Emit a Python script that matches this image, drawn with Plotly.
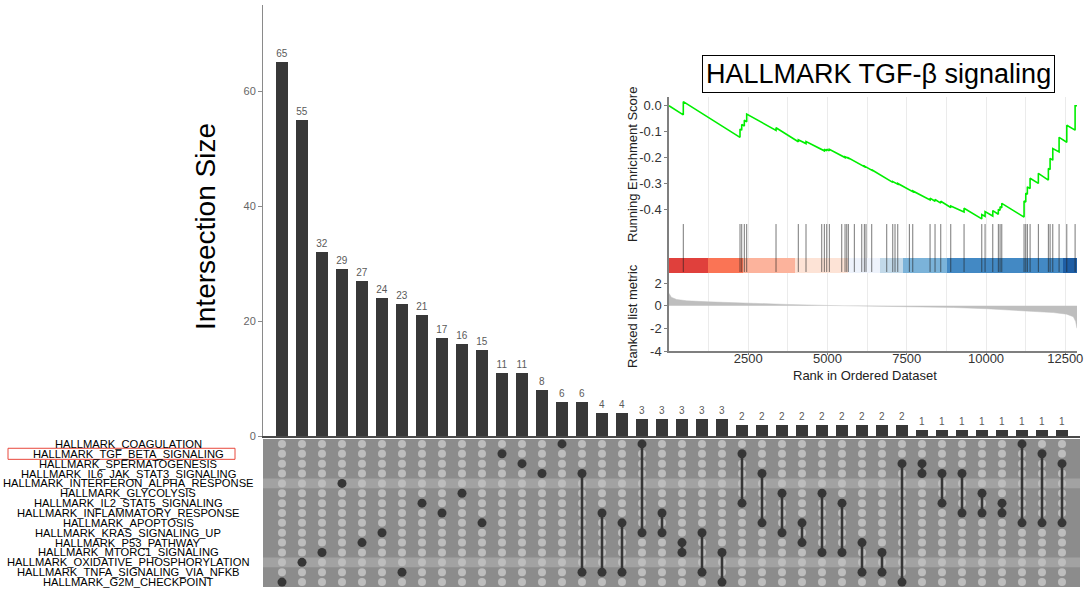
import plotly.graph_objects as go

W, H = 1087, 591

# ---------------- UpSet data ----------------
set_names = [
    "HALLMARK_COAGULATION", "HALLMARK_TGF_BETA_SIGNALING", "HALLMARK_SPERMATOGENESIS",
    "HALLMARK_IL6_JAK_STAT3_SIGNALING", "HALLMARK_INTERFERON_ALPHA_RESPONSE",
    "HALLMARK_GLYCOLYSIS", "HALLMARK_IL2_STAT5_SIGNALING", "HALLMARK_INFLAMMATORY_RESPONSE",
    "HALLMARK_APOPTOSIS", "HALLMARK_KRAS_SIGNALING_UP", "HALLMARK_P53_PATHWAY",
    "HALLMARK_MTORC1_SIGNALING", "HALLMARK_OXIDATIVE_PHOSPHORYLATION",
    "HALLMARK_TNFA_SIGNALING_VIA_NFKB", "HALLMARK_G2M_CHECKPOINT",
]
intersection_sizes = [65, 55, 32, 29, 27, 24, 23, 21, 17, 16, 15, 11, 11, 8, 6, 6, 4, 4,
                      3, 3, 3, 3, 3, 2, 2, 2, 2, 2, 2, 2, 2, 2, 1, 1, 1, 1, 1, 1, 1, 1]
# members of each intersection (index into set_names, 0 = top row)
intersection_members = [
    [14], [12], [11], [4], [10], [9], [13], [6], [7], [5], [8], [1], [2], [3], [0],
    [3, 13], [7, 13], [8, 13], [0, 9], [7, 9], [10, 11], [9, 13], [11, 14],
    [1, 6], [3, 8], [5, 9], [8, 10], [5, 11], [6, 11], [10, 13], [11, 13], [2, 14],
    [2, 3], [3, 6], [3, 7], [5, 7], [6, 7], [0, 8], [1, 8], [2, 8],
]
shaded_sets = ["HALLMARK_INTERFERON_ALPHA_RESPONSE", "HALLMARK_OXIDATIVE_PHOSPHORYLATION"]
boxed_set = "HALLMARK_TGF_BETA_SIGNALING"

# ---------------- GSEA inset data ----------------
n_genes = 12870
hit_ranks = [451, 2240, 2294, 2376, 2451, 3376, 4079, 4322, 4818, 4900, 4975, 5058,
             5449, 5553, 5607, 5657, 5846, 6080, 6162, 6215, 6395, 6868, 7058, 7130,
             7216, 7582, 7689, 8235, 8392, 8572, 8888, 9307, 9866, 9970, 10213, 10389,
             10443, 10497, 11200, 11254, 11304, 11390, 11651, 11967, 12021, 12106,
             12305, 12548, 12810]
es_rank = [0, 451, 451, 2240, 2240, 2294, 2294, 2376, 2376, 2451, 2451, 3376, 3376,
           4079, 4079, 4322, 4322, 4818, 4818, 4900, 4900, 4975, 4975, 5058, 5058,
           5449, 5449, 5553, 5553, 5607, 5607, 5657, 5657, 5846, 5846, 6080, 6080,
           6162, 6162, 6215, 6215, 6395, 6395, 6868, 6868, 7058, 7058, 7130, 7130,
           7216, 7216, 7582, 7582, 7689, 7689, 8235, 8235, 8392, 8392, 8572, 8572,
           8888, 8888, 9307, 9307, 9866, 9866, 9970, 9970, 10213, 10213, 10389, 10389,
           10443, 10443, 10497, 10497, 11200, 11200, 11254, 11254, 11304, 11304,
           11390, 11390, 11651, 11651, 11967, 11967, 12021, 12021, 12106, 12106,
           12305, 12305, 12548, 12548, 12810, 12810, 12870]
es_value = [0.000, -0.035, 0.016, -0.122, -0.090, -0.094, -0.072, -0.078, -0.056, -0.062, -0.032,
            -0.095, -0.085, -0.139, -0.131, -0.146, -0.138, -0.171, -0.168, -0.174, -0.168,
            -0.174, -0.168, -0.174, -0.168, -0.195, -0.192, -0.200, -0.197, -0.201, -0.199,
            -0.203, -0.201, -0.215, -0.213, -0.231, -0.229, -0.235, -0.233, -0.237, -0.235,
            -0.249, -0.247, -0.284, -0.281, -0.296, -0.293, -0.299, -0.296, -0.303, -0.300,
            -0.327, -0.324, -0.332, -0.329, -0.364, -0.357, -0.369, -0.362, -0.376, -0.369,
            -0.393, -0.387, -0.410, -0.396, -0.437, -0.420, -0.427, -0.409, -0.426, -0.405,
            -0.419, -0.400, -0.404, -0.390, -0.394, -0.377, -0.430, -0.368, -0.372, -0.338,
            -0.342, -0.313, -0.320, -0.280, -0.300, -0.261, -0.287, -0.242, -0.246, -0.203,
            -0.210, -0.165, -0.178, -0.122, -0.141, -0.075, -0.094, 0.000, 0.000]
metric_rank = [0, 73, 240, 557, 1241, 2503, 3712, 5000, 5816, 7498, 8970, 10020, 11230,
               12124, 12545, 12755, 12829, 12861, 12870]
metric_value = [1.10, 0.75, 0.56, 0.44, 0.35, 0.21, 0.12, 0.03, 0.0, -0.06, -0.15, -0.26,
                -0.42, -0.60, -0.74, -0.97, -1.40, -2.00, -2.00]
band_edges = [0, 1221, 2344, 3975, 5657, 6657, 7392, 8780, 12421, 12870]
band_colors = ["#E0403C", "#FA7455", "#FCB39C", "#FDE3D6", "#EEF3FC",
               "#C2D9E9", "#7BB3D9", "#4389C4", "#1E5EA5"]
rank_ticks = [2500, 5000, 7500, 10000, 12500]
es_ticks = [0.0, -0.1, -0.2, -0.3, -0.4]
metric_ticks = [2, 0, -2, -4]
count_ticks = [0, 20, 40, 60]

FONT = "Liberation Sans, Arial, sans-serif"


def px(x):
    return x / W


def py(y):
    return 1 - y / H


fig = go.Figure()

n_cols = len(intersection_sizes)
cols = list(range(n_cols))

# ---- intersection bars ----
fig.add_trace(go.Bar(
    x=cols, y=intersection_sizes, width=0.62,
    marker=dict(color="#383838", line=dict(width=0)),
    text=[str(v) for v in intersection_sizes], textposition="outside",
    textfont=dict(size=10, color="#5a5a5a", family=FONT),
    cliponaxis=False, xaxis="x", yaxis="y", showlegend=False, hoverinfo="skip",
))

# ---- matrix ----
gx, gy = [], []
for c in cols:
    for r in range(len(set_names)):
        gx.append(c)
        gy.append(r)
fig.add_trace(go.Scatter(
    x=gx, y=gy, mode="markers", marker=dict(size=8, color="#BDBDBD"),
    xaxis="x2", yaxis="y2", showlegend=False, hoverinfo="skip",
))
lx, ly, ax, ay = [], [], [], []
for c, mem in zip(cols, intersection_members):
    for r in mem:
        ax.append(c)
        ay.append(r)
    if len(mem) > 1:
        lx += [c, c, None]
        ly += [min(mem), max(mem), None]
fig.add_trace(go.Scatter(
    x=lx, y=ly, mode="lines", line=dict(color="#363636", width=2.6),
    xaxis="x2", yaxis="y2", showlegend=False, hoverinfo="skip",
))
fig.add_trace(go.Scatter(
    x=ax, y=ay, mode="markers", marker=dict(size=9, color="#363636"),
    xaxis="x2", yaxis="y2", showlegend=False, hoverinfo="skip",
))

# ---- GSEA running ES ----
fig.add_trace(go.Scatter(
    x=es_rank, y=es_value, mode="lines", line=dict(color="#00EE00", width=1.6),
    xaxis="x3", yaxis="y3", showlegend=False, hoverinfo="skip", cliponaxis=False,
))

# ---- colour band ----
fig.add_trace(go.Bar(
    x=[(a + b) / 2 for a, b in zip(band_edges[:-1], band_edges[1:])],
    width=[b - a for a, b in zip(band_edges[:-1], band_edges[1:])],
    y=[0.3] * len(band_colors), base=0,
    marker=dict(color=band_colors, line=dict(width=0)),
    xaxis="x4", yaxis="y4", showlegend=False, hoverinfo="skip",
))
# ---- hit rug ----
rx, ry = [], []
for h in hit_ranks:
    rx += [h, h, None]
    ry += [0.02, 0.96, None]
fig.add_trace(go.Scatter(
    x=rx, y=ry, mode="lines", line=dict(color="rgba(30,30,30,0.6)", width=1),
    xaxis="x4", yaxis="y4", showlegend=False, hoverinfo="skip",
))

# ---- ranked list metric ----
fig.add_trace(go.Scatter(
    x=metric_rank, y=metric_value, mode="lines", fill="tozeroy",
    fillcolor="#BEBEBE", line=dict(color="#BEBEBE", width=0.5),
    xaxis="x5", yaxis="y5", showlegend=False, hoverinfo="skip",
))

x_dom = [px(263), px(1080)]
x_rng = [-0.95, 39.9]
ins_dom = [px(669), px(1077)]
grid_minor = dict(tick0=0, dtick=1250, showgrid=True, gridcolor="#EBEBEB", gridwidth=1, ticks="")
inset_axis_font = dict(size=13, color="#333333", family=FONT)

fig.update_layout(
    width=W, height=H, margin=dict(l=0, r=0, t=0, b=0, pad=0, autoexpand=False),
    paper_bgcolor="white", plot_bgcolor="white",
    font=dict(family=FONT), bargap=0,
    xaxis=dict(domain=x_dom, range=x_rng, anchor="y", showline=True, linecolor="#4a4a4a",
               linewidth=1.5, showticklabels=False, ticks="", showgrid=False, zeroline=False,
               automargin=False),
    yaxis=dict(domain=[py(436), py(5)], range=[0, 75], anchor="x", showline=True,
               linecolor="#8a8a8a", linewidth=1, ticks="outside", ticklen=4, tickcolor="#8a8a8a",
               tickvals=count_ticks, tickfont=dict(size=11, color="#666666", family=FONT),
               showgrid=False, zeroline=False, automargin=False),
    xaxis2=dict(domain=x_dom, range=x_rng, anchor="y2", visible=False, automargin=False),
    yaxis2=dict(domain=[py(587), py(439)], range=[14.5, -0.5], anchor="x2", visible=False,
                automargin=False),
    xaxis3=dict(domain=ins_dom, range=[0, n_genes], anchor="y3", tickvals=rank_ticks,
                showticklabels=False, ticks="", showgrid=True, gridcolor="#EBEBEB",
                minor=grid_minor, zeroline=False, showline=False, automargin=False),
    yaxis3=dict(domain=[py(222), py(97)], range=[-0.449, 0.034], anchor="x3",
                tickvals=es_ticks, ticktext=["%.1f" % v for v in es_ticks],
                tickfont=inset_axis_font, ticks="outside", ticklen=3, tickcolor="#7f7f7f",
                showline=True, linecolor="#7f7f7f", linewidth=1.5, showgrid=False,
                zeroline=False, automargin=False),
    xaxis4=dict(domain=ins_dom, range=[0, n_genes], anchor="y4", tickvals=rank_ticks,
                showticklabels=False, ticks="", showgrid=True, gridcolor="#EBEBEB",
                minor=grid_minor, zeroline=False, showline=False, automargin=False),
    yaxis4=dict(domain=[py(273), py(222)], range=[0, 1], anchor="x4", showticklabels=False,
                ticks="", showline=True, linecolor="#7f7f7f", linewidth=1.5,
                showgrid=False, zeroline=False, automargin=False),
    xaxis5=dict(domain=ins_dom, range=[0, n_genes], anchor="y5", tickvals=rank_ticks,
                ticktext=[str(v) for v in rank_ticks], ticklabelstandoff=-7,
                tickfont=inset_axis_font, ticks="outside", ticklen=2, tickcolor="#7f7f7f",
                showline=True, linecolor="#7f7f7f", linewidth=1.5, showgrid=True,
                gridcolor="#EBEBEB", minor=grid_minor, zeroline=False, automargin=False),
    yaxis5=dict(domain=[py(351), py(273)], range=[-4, 2.9], anchor="x5",
                tickvals=metric_ticks, ticktext=[str(v) for v in metric_ticks],
                tickfont=inset_axis_font, ticks="outside", ticklen=3,
                tickcolor="#7f7f7f", showline=True, linecolor="#7f7f7f", linewidth=1.5,
                showgrid=False, zeroline=False, automargin=False),
)

shapes = [
    dict(type="rect", xref="x2 domain", yref="y2 domain", x0=0, x1=1, y0=0, y1=1,
         fillcolor="#8C8C8C", line=dict(width=0), layer="below"),
]
for s in shaded_sets:
    r = set_names.index(s)
    shapes.append(dict(type="rect", xref="x2 domain", yref="y2", x0=0, x1=1,
                       y0=r - 0.5, y1=r + 0.5, fillcolor="#A2A2A2",
                       line=dict(width=0), layer="below"))
rb = set_names.index(boxed_set)
shapes.append(dict(type="rect", xref="paper", yref="y2", x0=px(8), x1=px(235),
                   y0=rb - 0.56, y1=rb + 0.56, line=dict(color="#E8483C", width=1),
                   fillcolor="rgba(0,0,0,0)"))
fig.update_layout(shapes=shapes)


def label(text, x, y, size, color="black", angle=0, **kw):
    d = dict(text=text, xref="paper", yref="paper", x=px(x), y=py(y), showarrow=False,
             xanchor="center", yanchor="middle", textangle=angle,
             font=dict(size=size, color=color, family=FONT))
    d.update(kw)
    return d


ann = []
for i, name in enumerate(set_names):
    ann.append(dict(text=name, xref="paper", yref="y2", x=px(128), y=i, showarrow=False,
                    xanchor="center", yanchor="middle",
                    font=dict(size=11.2, color="black", family=FONT)))
ann += [
    label("Intersection Size", 205, 227, 28, angle=-90),
    label("HALLMARK TGF-β signaling", 878, 74, 27, bordercolor="black", borderwidth=1,
          borderpad=3, bgcolor="white"),
    label("Running Enrichment Score", 632, 165, 13, color="#222222", angle=-90),
    label("Ranked list metric", 632, 316, 13, color="#222222", angle=-90),
    label("Rank in Ordered Dataset", 865, 375, 13, color="#222222"),
]
fig.update_layout(annotations=ann)

fig.write_html("out.html", config={"displayModeBar": False},
               post_script="document.body.style.margin='0';document.body.style.padding='0';")
